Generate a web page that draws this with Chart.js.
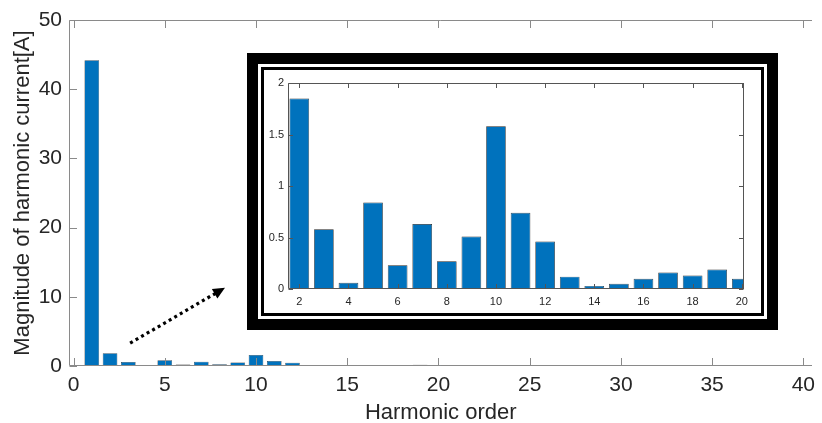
<!DOCTYPE html>
<html>
<head>
<meta charset="utf-8">
<script src="https://cdn.jsdelivr.net/npm/chart.js@4.4.1/dist/chart.umd.min.js"></script>
<style>
  html, body { margin: 0; padding: 0; background: #fff; }
  #wrap { position: relative; width: 822px; height: 423px; overflow: hidden; background: #fff; }
  #main { position: absolute; left: 0; top: 0; display: block; }
  #insetOuter { position: absolute; left: 247px; top: 53px; width: 531px; height: 277px;
    box-sizing: border-box; border: 11px solid #000; padding: 3px; background: #fff; }
  #insetInner { width: 503px; height: 249px; box-sizing: border-box; border: 3px solid #000; background: #fff; }
  #inset { display: block; }
</style>
</head>
<body>
<div id="wrap">
  <canvas id="main" width="822" height="423"></canvas>
  <div id="insetOuter"><div id="insetInner"><canvas id="inset" width="497" height="243"></canvas></div></div>
</div>
<script>
// ---------------- data ----------------
const harmonicOrder = [1,2,3,4,5,6,7,8,9,10,11,12,13,14,15,16,17,18,19,20,
                       21,22,23,24,25,26,27,28,29,30,31,32,33,34,35,36,37,38,39,40];
const magnitude = [44.2,1.85,0.58,0.06,0.84,0.23,0.63,0.27,0.51,1.58,0.74,0.46,0.12,0.03,0.05,0.10,0.16,0.13,0.19,0.10,
                   0.03,0.03,0.08,0.01,0.01,0.02,0.02,0.01,0.01,0.01,0.02,0.04,0.04,0.09,0.01,0.01,0.01,0.01,0.01,0.01];
const mainXTicks = [0,5,10,15,20,25,30,35,40];
const mainYTicks = [0,10,20,30,40,50];
const insetRange = [2, 20];
const insetXTicks = [2,4,6,8,10,12,14,16,18,20];
const insetYTicks = [0,0.5,1,1.5,2];
const insetYLabels = ['0','0.5','1','1.5','2'];
const xTitle = 'Harmonic order';
const yTitle = 'Magnitude of harmonic current[A]';

// ---------------- styling ----------------
const FONT = "'Liberation Sans', Arial, Helvetica, sans-serif";
const TXT = '#262626';
const BAR = '#0072BD';

const mainPoints = harmonicOrder.map((h, i) => ({x: h, y: magnitude[i]}));
const insetPoints = mainPoints.filter(p => p.x >= insetRange[0] && p.x <= insetRange[1]);

function axesPlugin(id, o) {
  return {
    id,
    afterDraw(chart) {
      const {ctx, chartArea: a, scales: {x, y}} = chart;
      const L = Math.round(a.left) + 0.5, R = Math.round(a.right) - 0.5;
      const T = Math.round(a.top) + 0.5, B = Math.round(a.bottom) - 0.5;
      ctx.save();
      ctx.strokeStyle = o.color;
      ctx.lineWidth = 1;
      ctx.beginPath();
      // box
      ctx.moveTo(L, B); ctx.lineTo(R + 0.5, B);
      ctx.moveTo(L, B); ctx.lineTo(L, T);
      ctx.moveTo(L, T); ctx.lineTo(R + 0.5, T);
      if (o.right) { ctx.moveTo(R, T); ctx.lineTo(R, B); }
      // ticks
      x.ticks.forEach(t => {
        const px = Math.round(x.getPixelForValue(t.value)) + 0.5;
        ctx.moveTo(px, B); ctx.lineTo(px, B - o.len);
        ctx.moveTo(px, T); ctx.lineTo(px, T + o.len);
      });
      y.ticks.forEach(t => {
        const py = Math.round(y.getPixelForValue(t.value)) + 0.5;
        ctx.moveTo(L, py); ctx.lineTo(L + o.len, py);
        if (o.right) { ctx.moveTo(R, py); ctx.lineTo(R - o.len, py); }
      });
      ctx.stroke();
      if (o.arrow) {
        const [x0, y0, x1, y1] = o.arrow;
        const p0 = {x: x.getPixelForValue(x0), y: y.getPixelForValue(y0)};
        const p1 = {x: x.getPixelForValue(x1), y: y.getPixelForValue(y1)};
        const dx = p1.x - p0.x, dy = p1.y - p0.y, len = Math.hypot(dx, dy);
        const ux = dx / len, uy = dy / len;
        const head = 12, hw = 5.5;
        const bx = p1.x - ux * head, by = p1.y - uy * head;
        ctx.strokeStyle = '#000';
        ctx.lineWidth = 3.2;
        ctx.setLineDash([3, 3.4]);
        ctx.beginPath();
        ctx.moveTo(p0.x, p0.y); ctx.lineTo(bx + ux * 2, by + uy * 2);
        ctx.stroke();
        ctx.setLineDash([]);
        ctx.fillStyle = '#000';
        ctx.beginPath();
        ctx.moveTo(p1.x, p1.y);
        ctx.lineTo(bx - uy * hw, by + ux * hw);
        ctx.lineTo(bx + uy * hw, by - ux * hw);
        ctx.closePath();
        ctx.fill();
      }
      ctx.restore();
    }
  };
}

Chart.defaults.font.family = FONT;
Chart.defaults.color = TXT;

new Chart(document.getElementById('main'), {
  type: 'bar',
  data: { datasets: [{ data: mainPoints, backgroundColor: BAR, borderColor: '#1a1a1a', borderWidth: 0.5,
    barPercentage: 0.8, categoryPercentage: 1.0 }] },
  options: {
    responsive: false, animation: false, devicePixelRatio: 1,
    layout: { padding: { left: 0, top: 20, right: 0, bottom: 0 } },
    plugins: { legend: { display: false }, tooltip: { enabled: false } },
    scales: {
      x: {
        type: 'linear', offset: false, min: -0.25, max: 40.5,
        grid: { display: false, drawTicks: false }, border: { display: false },
        afterBuildTicks: s => { s.ticks = mainXTicks.map(v => ({value: v})); },
        afterFit: s => { s.height = 57; },
        ticks: { font: { size: 21 }, color: TXT, padding: 7, maxRotation: 0, autoSkip: false,
          callback: v => String(v) },
        title: { display: true, text: xTitle, font: { size: 22, lineHeight: 0.9 }, color: TXT, padding: 0 }
      },
      y: {
        min: 0, max: 50,
        grid: { display: false, drawTicks: false }, border: { display: false },
        afterBuildTicks: s => { s.ticks = mainYTicks.map(v => ({value: v})); },
        afterFit: s => { s.width = 69; },
        ticks: { font: { size: 21 }, color: TXT, padding: 7, callback: v => String(v) },
        title: { display: true, text: yTitle, font: { size: 22 }, color: TXT, padding: { top: 10, bottom: 0 } }
      }
    }
  },
  plugins: [axesPlugin('mainAxes', { color: '#8a8a8a', len: 7.5, right: false, arrow: [3.1, 3.3, 8.3, 11.3] })]
});

new Chart(document.getElementById('inset'), {
  type: 'bar',
  data: { datasets: [{ data: insetPoints, backgroundColor: BAR, borderColor: '#262626', borderWidth: 0.7,
    barPercentage: 0.8, categoryPercentage: 1.0 }] },
  options: {
    responsive: false, animation: false, devicePixelRatio: 1,
    layout: { padding: { left: 0, top: 13, right: 17, bottom: 0 } },
    plugins: { legend: { display: false }, tooltip: { enabled: false } },
    scales: {
      x: {
        type: 'linear', offset: false, min: 1.54, max: 20.09,
        grid: { display: false, drawTicks: false }, border: { display: false },
        afterBuildTicks: s => { s.ticks = insetXTicks.map(v => ({value: v})); },
        afterFit: s => { s.height = 24; },
        ticks: { font: { size: 11 }, color: TXT, padding: 6, maxRotation: 0, autoSkip: false,
          callback: v => String(v) }
      },
      y: {
        min: 0, max: 2,
        grid: { display: false, drawTicks: false }, border: { display: false },
        afterBuildTicks: s => { s.ticks = insetYTicks.map(v => ({value: v})); },
        afterFit: s => { s.width = 24; },
        ticks: { font: { size: 11 }, color: TXT, padding: 4,
          callback: (v, i) => insetYLabels[i] }
      }
    }
  },
  plugins: [axesPlugin('insetAxes', { color: '#555', len: 4.5, right: true })]
});
</script>
</body>
</html>
